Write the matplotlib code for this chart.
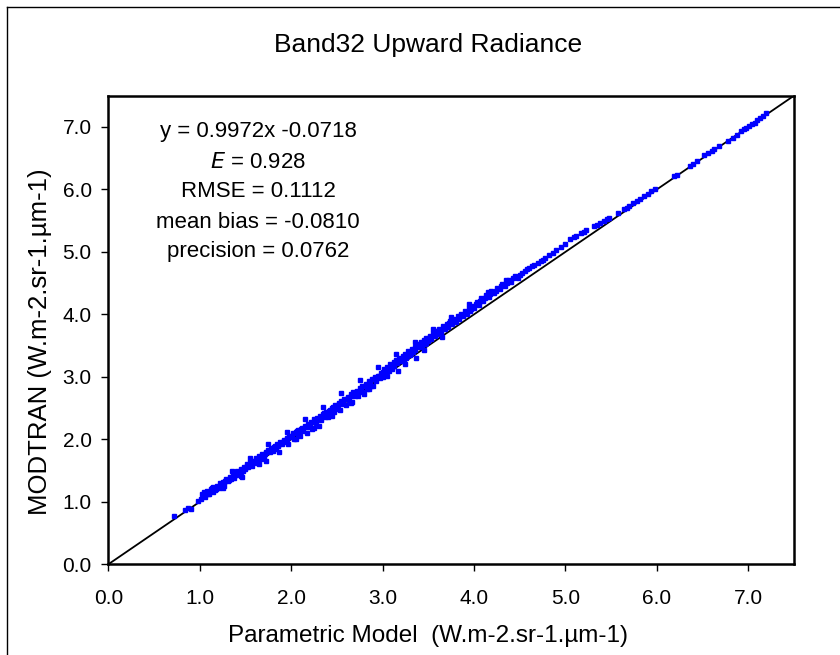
import numpy as np
import matplotlib.pyplot as plt
from matplotlib.lines import Line2D

plt.rcParams['font.family'] = ['Liberation Sans', 'DejaVu Sans']

# parametric model (x) vs MODTRAN (y)
param = [0.72, 0.84, 0.87, 0.90, 0.98,
         1.01, 1.03, 1.05, 1.06, 1.08, 1.10, 1.12, 1.14, 1.15, 1.17, 1.19, 1.21, 1.22, 1.24, 1.26,
         1.27, 1.29, 1.31, 1.33, 1.34, 1.36, 1.38, 1.40, 1.41, 1.43, 1.45, 1.46, 1.48, 1.50,
         1.52, 1.53, 1.55, 1.57, 1.58, 1.60, 1.62, 1.63, 1.65, 1.67, 1.68, 1.70, 1.72, 1.73, 1.75,
         1.77, 1.78, 1.80, 1.82, 1.83, 1.85, 1.87, 1.88, 1.90, 1.92, 1.93, 1.95, 1.97, 1.98, 2.00,
         2.02, 2.03, 2.05, 2.07, 2.08, 2.10, 2.12, 2.13, 2.15, 2.17, 2.18, 2.20, 2.22, 2.23, 2.25,
         2.27, 2.28, 2.30, 2.32, 2.33, 2.35, 2.37, 2.38, 2.40, 2.42, 2.43, 2.45, 2.47, 2.48, 2.50,
         2.52, 2.53, 2.55, 2.57, 2.58, 2.60, 2.62, 2.63, 2.65, 2.67, 2.68, 2.70, 2.72, 2.73, 2.75,
         2.77, 2.78, 2.80, 2.82, 2.83, 2.85, 2.87, 2.88, 2.90, 2.92, 2.93, 2.95, 2.97, 2.98, 3.00,
         3.02, 3.03, 3.05, 3.07, 3.08, 3.10, 3.12, 3.13, 3.15, 3.17, 3.18, 3.20, 3.22, 3.23, 3.25,
         3.27, 3.28, 3.30, 3.32, 3.33, 3.35, 3.37, 3.38, 3.40, 3.42, 3.43, 3.45, 3.47, 3.48, 3.50,
         3.52, 3.53, 3.55, 3.57, 3.58, 3.60, 3.62, 3.64, 3.66, 3.68, 3.70, 3.72, 3.74, 3.76, 3.78,
         3.80, 3.82, 3.84, 3.86, 3.88, 3.90, 3.92, 3.94, 3.96, 3.98, 4.00,
         4.03, 4.05, 4.08, 4.10, 4.13, 4.16, 4.19, 4.22, 4.25, 4.28, 4.31, 4.34, 4.38, 4.41, 4.45,
         4.48, 4.52, 4.56,
         4.60, 4.63, 4.66, 4.70, 4.73, 4.76, 4.78, 4.82, 4.86, 4.90, 4.95, 5.00, 5.05, 5.09, 5.12,
         5.17, 5.20, 5.23, 5.31, 5.34, 5.38, 5.42, 5.45, 5.48, 5.57, 5.64, 5.67, 5.70, 5.74, 5.78,
         5.82, 5.86, 5.90, 5.94, 5.98, 6.19, 6.22, 6.36, 6.40, 6.44, 6.52, 6.56, 6.60, 6.63, 6.68,
         6.78, 6.83, 6.88, 6.92, 6.95, 6.98, 7.01, 7.04, 7.07, 7.10, 7.13, 7.16, 7.19,
         1.04, 1.09, 1.13, 1.18, 1.23, 1.28, 1.32, 1.37, 1.42, 1.47, 1.51, 1.56, 1.61, 1.66, 1.71,
         1.76, 1.81, 1.86, 1.91, 1.96,
         2.01, 2.06, 2.11, 2.16, 2.21, 2.26, 2.31, 2.36, 2.41, 2.46, 2.51, 2.56, 2.61, 2.66, 2.71,
         2.76, 2.81, 2.86, 2.91, 2.96,
         3.01, 3.06, 3.11, 3.16, 3.21, 3.26, 3.31, 3.36, 3.41, 3.46, 3.51, 3.56, 3.61, 3.67, 3.73,
         3.79, 3.85, 3.91, 3.97,
         4.02, 4.07, 4.12, 4.18, 4.24, 4.30, 4.36, 4.43, 4.50, 4.58,
         1.35, 1.55, 1.75, 1.95, 2.15, 2.35, 2.55, 2.75, 2.95, 3.15, 3.35, 3.55, 3.75, 3.95, 4.15,
         4.35,
         1.25, 1.65, 2.05, 2.45, 2.65, 2.85, 3.05, 3.25, 3.45, 3.65, 1.45, 2.25]
modtran = [0.77, 0.87, 0.90, 0.89, 1.02,
           1.05, 1.12, 1.15, 1.08, 1.17, 1.13, 1.20, 1.16, 1.23, 1.19, 1.26, 1.22, 1.30, 1.27, 1.32,
           1.25, 1.36, 1.33, 1.40, 1.36, 1.44, 1.41, 1.43, 1.50, 1.46, 1.52, 1.40, 1.55, 1.53,
           1.60, 1.55, 1.63, 1.58, 1.66, 1.64, 1.70, 1.62, 1.73, 1.69, 1.76, 1.72, 1.80, 1.66, 1.83,
           1.79, 1.86, 1.82, 1.90, 1.85, 1.93, 1.80, 1.95, 1.92, 1.99, 1.97, 2.02, 1.93, 2.05, 2.03,
           2.10, 2.00, 2.12, 2.08, 2.15, 2.06, 2.18, 2.14, 2.22, 2.10, 2.25, 2.20, 2.28, 2.17, 2.32,
           2.26, 2.34, 2.22, 2.37, 2.31, 2.40, 2.35, 2.44, 2.36, 2.47, 2.41, 2.50, 2.43, 2.55, 2.48,
           2.58, 2.47, 2.62, 2.56, 2.65, 2.55, 2.68, 2.63, 2.72, 2.60, 2.75, 2.69, 2.78, 2.70, 2.82,
           2.75, 2.85, 2.72, 2.88, 2.81, 2.93, 2.86, 2.96, 2.85, 2.99, 2.93, 3.02, 2.98, 3.06, 3.00,
           3.12, 3.05, 3.16, 3.10, 3.20, 3.13, 3.23, 3.17, 3.27, 3.10, 3.30, 3.25, 3.34, 3.28, 3.37,
           3.33, 3.41, 3.35, 3.45, 3.40, 3.48, 3.30, 3.52, 3.47, 3.56, 3.50, 3.59, 3.54, 3.62, 3.57,
           3.66, 3.60, 3.70, 3.65, 3.73, 3.68, 3.77, 3.72, 3.81, 3.76, 3.85, 3.80, 3.89, 3.84, 3.93,
           3.88, 3.97, 3.93, 4.01, 3.97, 4.06, 4.01, 4.10, 4.05, 4.14, 4.10,
           4.20, 4.15, 4.26, 4.22, 4.31, 4.28, 4.37, 4.34, 4.42, 4.40, 4.48, 4.45, 4.55, 4.52, 4.61,
           4.58, 4.66, 4.70,
           4.74, 4.78, 4.79, 4.83, 4.85, 4.87, 4.90, 4.95, 4.99, 5.03, 5.08, 5.13, 5.20, 5.24, 5.25,
           5.30, 5.32, 5.35, 5.42, 5.43, 5.46, 5.50, 5.52, 5.55, 5.62, 5.68, 5.71, 5.74, 5.78, 5.81,
           5.85, 5.89, 5.93, 5.97, 6.01, 6.22, 6.23, 6.38, 6.40, 6.45, 6.55, 6.58, 6.62, 6.65, 6.70,
           6.78, 6.83, 6.87, 6.93, 6.96, 6.99, 7.02, 7.05, 7.07, 7.11, 7.14, 7.18, 7.22,
           1.10, 1.12, 1.22, 1.21, 1.24, 1.33, 1.35, 1.38, 1.47, 1.50, 1.56, 1.61, 1.66, 1.71, 1.77,
           1.81, 1.87, 1.90, 1.96, 2.00,
           2.06, 2.13, 2.16, 2.20, 2.24, 2.31, 2.33, 2.42, 2.45, 2.52, 2.55, 2.60, 2.64, 2.70, 2.75,
           2.80, 2.86, 2.90, 2.96, 3.01,
           3.08, 3.13, 3.18, 3.22, 3.29, 3.30, 3.38, 3.43, 3.49, 3.52, 3.62, 3.67, 3.73, 3.79, 3.86,
           3.91, 3.98, 4.03, 4.09,
           4.16, 4.22, 4.27, 4.33, 4.38, 4.45, 4.50, 4.58, 4.63, 4.72,
           1.50, 1.70, 1.92, 2.12, 2.33, 2.52, 2.74, 2.95, 3.16, 3.36, 3.56, 3.76, 3.96, 4.16, 4.36,
           4.55,
           1.22, 1.60, 2.00, 2.38, 2.58, 2.80, 3.02, 3.20, 3.43, 3.63, 1.42, 2.18]

ticks = [0.0, 1.0, 2.0, 3.0, 4.0, 5.0, 6.0, 7.0]
stats = ["y = 0.9972x -0.0718", "$\\it{E}$ = 0.928", "RMSE = 0.1112",
         "mean bias = -0.0810", "precision = 0.0762"]

W, H = 840, 655
fig = plt.figure(figsize=(W / 100, H / 100), dpi=100)
ax = fig.add_axes([108.3 / W, 1 - 564.3 / H, (794 - 108.3) / W, (564.3 - 95.7) / H])

ax.plot([0, 7.5], [0, 7.5], color='black', lw=1.3, zorder=2)
ax.plot(param, modtran, ls='none', marker='s', ms=3.4, color='#0000ff', mec='#0000ff', zorder=3)

ax.set_xlim(0, 7.5)
ax.set_ylim(0, 7.5)
ax.set_xticks(ticks)
ax.set_yticks(ticks)
ax.set_xticklabels(['%.1f' % t for t in ticks], fontsize=15)
ax.set_yticklabels(['%.1f' % t for t in ticks], fontsize=15)
ax.tick_params(direction='out', length=5, width=1, color='black')
ax.tick_params(axis='x', pad=13)
ax.tick_params(axis='y', pad=7)
for s in ax.spines.values():
    s.set_linewidth(1.8)

fig.text(428 / W, 1 - 636 / H, 'Parametric Model  (W.m-2.sr-1.µm-1)', ha='center', va='center', fontsize=17.5)
fig.text(40 / W, 1 - 342 / H, 'MODTRAN (W.m-2.sr-1.µm-1)', ha='center', va='center',
         rotation=90, fontsize=18.5)
fig.text(428 / W, 1 - 45 / H, 'Band32 Upward Radiance', ha='center', va='center', fontsize=19)

for i, s in enumerate(stats):
    fig.text(258 / W, 1 - (132 + 30 * i) / H, s, ha='center', va='center', fontsize=16)

# outer chart frame
fig.add_artist(Line2D([7 / W, 7 / W], [0, 1 - 7 / H], color='black', lw=1))
fig.add_artist(Line2D([7 / W, 1], [1 - 7 / H, 1 - 7 / H], color='black', lw=1))

fig.savefig('out.png', dpi=100, facecolor='white')
